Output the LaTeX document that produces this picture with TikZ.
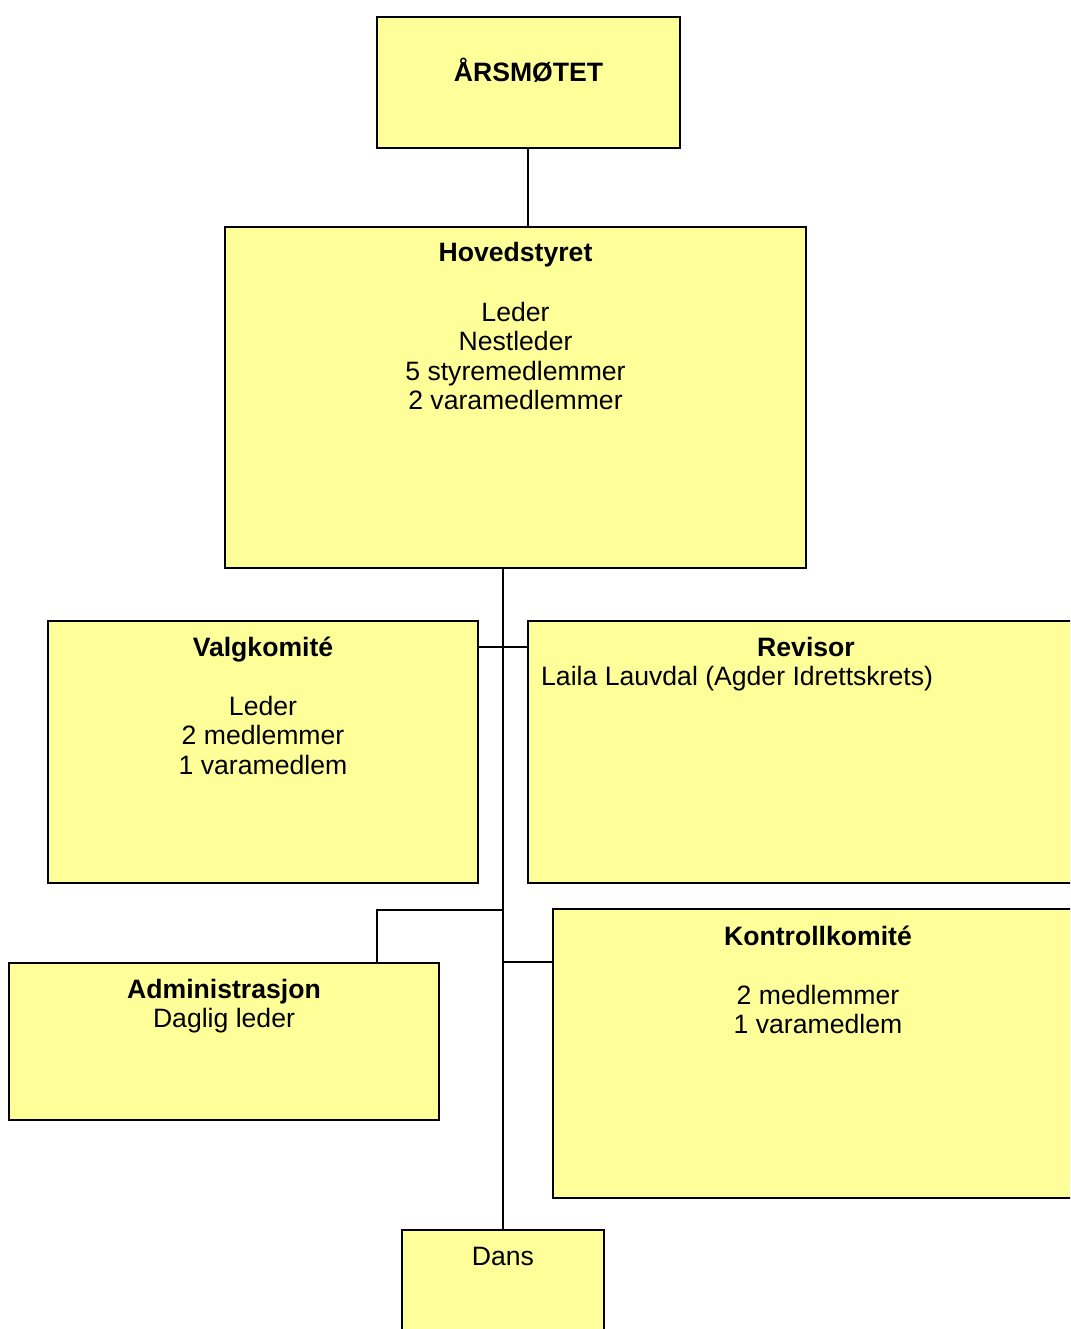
\documentclass[tikz,border=0pt]{standalone}
\usepackage{fontspec}
\setmainfont{Liberation Sans}
\definecolor{boxfill}{HTML}{FFFF99}
\begin{document}
\begin{tikzpicture}[x=1pt,y=-1pt,
  box/.style={draw=black,line width=1.8pt,fill=boxfill,rectangle,inner sep=0pt,outer sep=0pt,anchor=north west},
  txt/.style={inner sep=0pt,font=\fontsize{26.6}{29.5}\selectfont},
  conn/.style={draw=black,line width=1.7pt}]
\clip (0,0) rectangle (1070,1329);
\fill[white] (0,0) rectangle (1070,1329);
% boxes
\node[box,minimum width=303pt,minimum height=131pt] (ar) at (377,17) {};
\node[box,minimum width=581pt,minimum height=341pt] (hs) at (225,227) {};
\node[box,minimum width=430pt,minimum height=262pt] (vk) at (48,621) {};
\node[box,minimum width=556pt,minimum height=262pt] (rev) at (528,621) {};
\node[box,minimum width=430pt,minimum height=157pt] (adm) at (9,963) {};
\node[box,minimum width=530pt,minimum height=289pt] (kk) at (553,909) {};
\node[box,minimum width=202pt,minimum height=140pt] (dans) at (402,1230) {};
% connectors
\coordinate (top) at (528,148);
\coordinate (spt) at (dans.north |- hs.south);
\coordinate (j1) at (503,647);
\coordinate (j2) at (503,910);
\coordinate (j2a) at (377,910);
\coordinate (j3) at (503,962);
\draw[conn] (top) -- (top |- hs.north);
\draw[conn] (spt) -- (dans.north);
\draw[conn] (vk.east |- j1) -- (rev.west |- j1);
\draw[conn] (j2) -- (j2a) -- (j2a |- adm.north);
\draw[conn] (j3) -- (kk.west |- j3);
% texts
\node[txt,anchor=base] (ar-t) at (528.5,82) {\textbf{ÅRSMØTET}};
\node[txt,anchor=base] (hs-t) at (515.5,262) {\begin{tabular}[t]{@{}c@{}}\textbf{Hovedstyret}\\ \\ Leder\\ Nestleder\\ 5 styremedlemmer\\ 2 varamedlemmer\end{tabular}};
\node[txt,anchor=base] (vk-t) at (263,656) {\begin{tabular}[t]{@{}c@{}}\textbf{Valgkomité}\\ \\ Leder\\ 2 medlemmer\\ 1 varamedlem\end{tabular}};
\node[txt,anchor=base] (rev-t) at (806,656) {\textbf{Revisor}};
\node[txt,anchor=base west] (rev-b) at (541,685) {Laila Lauvdal (Agder Idrettskrets)};
\node[txt,anchor=base] (adm-t) at (224,998) {\begin{tabular}[t]{@{}c@{}}\textbf{Administrasjon}\\ Daglig leder\end{tabular}};
\node[txt,anchor=base] (kk-t) at (818,945) {\begin{tabular}[t]{@{}c@{}}\textbf{Kontrollkomité}\\ \\ 2 medlemmer\\ 1 varamedlem\end{tabular}};
\node[txt,anchor=base] (dans-t) at (503,1265) {Dans};
\end{tikzpicture}
\end{document}
